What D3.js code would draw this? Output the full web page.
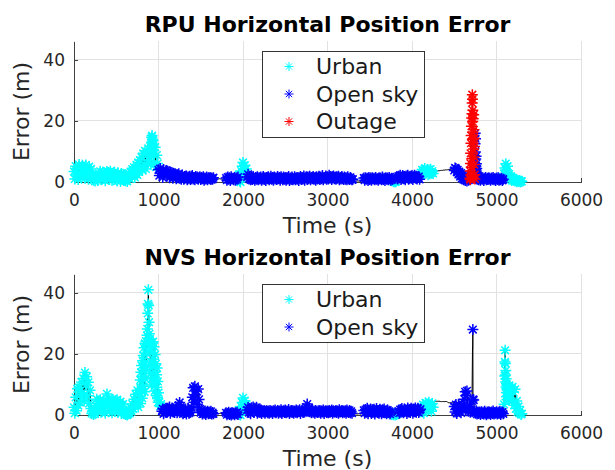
<!DOCTYPE html>
<html>
<head>
<meta charset="utf-8">
<script src="https://cdn.jsdelivr.net/npm/d3@7"></script>
<style>
  body { margin: 0; background: #fff; }
  svg { font-family: "DejaVu Sans", sans-serif; }
</style>
</head>
<body>
<div id="result"></div>
<script>
// main series: one value every STEP seconds, from t = 0 to 5300
const STEP = 10;

const rpuError = [
  3.4,1.0,5.2,2.3,4.6,0.8,5.7,2.9,1.5,4.1,
  5.5,2.6,4.8,1.2,5.6,3.3,4.2,0.9,5.0,2.7,
  4.3,1.8,2.2,0.6,1.9,0.3,2.4,1.1,0.5,2.0,
  1.4,3.5,0.7,2.8,3.3,1.2,3.0,0.4,2.5,3.4,
  1.9,3.1,0.8,3.5,2.2,0.5,2.9,1.7,3.3,1.0,
  2.4,0.3,3.0,1.2,2.0,0.2,2.8,0.9,2.5,0.5,
  1.8,0.4,1.3,0.2,1.6,2.8,1.0,3.4,1.9,4.2,
  2.6,4.8,1.5,3.9,5.6,2.3,6.4,3.4,7.2,4.5,
  8.1,3.8,9.4,5.6,10.2,4.3,8.7,6.4,11.0,7.1,
  9.3,5.8,12.0,13.0,10.5,6.2,11.4,4.9,8.8,6.1,
  4.0,2.1,4.4,2.9,3.6,1.5,4.1,2.4,3.2,3.8,
  1.9,3.5,2.7,1.4,3.3,2.0,3.0,1.2,2.8,2.2,
  2.6,1.1,2.4,1.7,2.7,1.2,2.0,0.9,2.3,1.5,
  0.9,1.8,1.3,2.0,0.7,1.6,1.1,1.9,0.8,1.7,
  2.1,1.0,1.5,0.7,1.8,1.2,1.6,0.9,1.4,1.7,
  0.8,1.5,1.1,1.7,0.6,1.3,1.0,1.6,0.7,1.4,
  1.1,1.5,0.8,1.3,0.9,1.4,1.0,1.1,1.0,1.0,
  1.0,1.0,1.1,1.0,1.0,1.0,0.9,1.0,1.0,1.0,
  1.3,0.6,1.6,0.9,1.4,0.5,1.7,1.0,1.2,0.7,
  1.5,0.6,1.3,0.9,1.6,2.4,0.3,0.0,3.6,5.2,
  6.4,4.1,5.5,2.8,4.3,1.6,2.5,1.0,1.9,0.7,
  1.6,0.8,1.8,1.1,0.6,1.5,0.9,1.7,0.7,1.4,
  1.0,1.6,0.6,1.3,1.8,0.8,1.4,0.5,1.5,1.1,
  1.7,0.7,1.3,1.9,0.9,1.5,0.6,1.6,1.0,1.4,
  0.8,1.8,1.1,1.5,0.6,1.7,1.2,0.7,1.6,0.9,
  1.4,0.6,1.5,1.0,1.8,0.5,1.3,0.8,1.6,0.7,
  1.1,1.7,0.7,1.4,0.9,1.5,0.5,1.3,1.8,0.8,
  1.5,1.0,2.0,0.6,1.4,1.7,0.8,1.6,1.1,1.9,
  0.7,1.5,1.2,1.8,0.9,1.4,0.6,1.7,1.0,1.5,
  1.9,0.8,1.6,1.1,2.1,0.7,1.5,1.2,2.0,0.9,
  1.7,1.0,2.2,1.3,1.8,0.8,1.5,2.0,1.1,1.6,
  0.9,1.7,1.2,1.9,0.7,1.5,1.0,1.8,1.3,0.8,
  1.6,0.9,1.4,0.7,1.7,1.1,0.8,1.5,1.0,0.7,
  0.9,0.4,0.4,0.3,0.3,0.3,0.4,0.3,0.3,0.4,
  0.3,0.4,0.3,1.3,0.6,1.4,0.9,1.2,0.5,1.5,
  0.8,1.3,0.6,1.4,1.0,1.2,0.7,1.5,0.9,1.1,
  0.6,1.4,1.0,1.3,0.7,1.6,0.8,1.2,0.5,1.4,
  0.9,1.3,0.7,1.5,1.0,0.6,1.2,0.8,0.1,0.3,
  0.0,0.2,1.7,1.0,1.9,1.3,2.2,0.8,1.6,2.1,
  1.1,1.8,0.7,2.0,1.4,2.2,0.9,1.6,1.9,1.2,
  2.1,0.8,1.7,2.2,1.3,1.9,1.0,1.5,1.8,0.9,
  2.2,3.1,4.0,2.6,3.8,4.4,2.9,3.5,4.1,2.4,
  3.9,2.7,4.2,3.0,3.6,2.8,3.4,3.5,3.5,3.6,
  3.6,3.7,3.7,3.7,3.8,3.8,3.8,3.9,3.9,3.9,
  4.0,4.0,4.0,4.1,4.1,4.1,4.2,4.2,4.3,4.3,
  3.8,4.6,4.4,3.2,4.0,2.5,3.4,1.8,2.9,1.2,
  2.4,0.8,1.9,0.5,1.4,0.3,1.0,0.6,0.9,0.6,
  0.6,0.6,0.6,0.6,0.6,0.6,0.6,0.6,1.4,0.7,
  1.2,0.6,1.4,0.9,1.3,0.5,1.1,1.5,0.7,1.2,
  0.8,1.4,1.0,0.6,1.3,0.9,1.5,0.7,1.1,0.5,
  1.3,0.8,1.4,0.6,1.0,0.7,1.2,0.5,0.9,2.8,
  4.6,6.0,3.9,5.2,1.8,2.6,0.9,1.9,0.5,1.4,
  0.7,1.0,0.3,0.8,0.1,0.6,0.2,0.5,0.0,0.3,
  0.2
];
// short stretches sampled more finely (they replace the main samples inside them)
const rpuBurstStart = [916, 4686];
const rpuBurstStep = [2, 2];
const rpuBurstValues = [
  [9.6,12.8,14.7,13.1,15.2,11.8,14.0,12.3,10.5,13.6,9.0,11.4],
  [1.2,3.6,0.8,6.1,9.4,2.3,12.7,15.2,4.8,18.3,21.0,7.6,22.4,25.9,28.6,27.1,19.8,23.5,16.4,20.7,
   13.9,10.8,22.0,17.1,8.2,14.3,5.7,11.6,2.4,1.0,
   12.5,16.0,9.8,14.2,7.5,5.2,8.4,3.6,6.0,2.1,4.4,1.5,3.0,0.9,2.2]
];
const rpuZoneStart = [0, 1000, 1660, 1800, 1950, 2050, 3310, 3430, 3780, 3820, 4100, 4260, 4500, 4686, 4746, 5090];
const rpuZoneClass = ['Urban','Open sky','','Open sky','Urban','Open sky','','Open sky','Urban','Open sky','Urban','','Open sky','Outage','Open sky','Urban'];

const nvsError = [
  2.5,0.6,5.8,1.4,8.6,3.1,9.0,4.2,6.6,10.8,
  7.4,12.0,4.6,13.9,9.8,12.5,6.3,10.7,3.8,8.1,
  2.1,0.5,1.2,0.2,0.8,0.4,3.1,5.2,1.8,4.6,
  2.4,5.0,0.9,3.7,1.5,4.8,2.8,0.6,4.2,6.9,
  3.3,5.4,1.2,4.5,2.6,0.7,5.1,3.0,1.8,4.7,
  2.2,5.0,0.8,3.9,1.6,4.4,0.5,2.9,3.6,1.1,
  0.6,0.2,0.4,0.0,0.3,1.2,0.5,2.4,1.1,3.6,
  2.0,5.2,3.1,6.8,4.0,8.1,2.6,7.2,10.5,5.6,
  14.2,19.5,11.8,22.6,16.3,24.1,18.7,20.0,20.0,20.0,
  21.3,13.5,23.8,17.0,11.2,19.6,14.8,8.9,16.4,10.1,
  7.3,4.2,2.8,3.6,1.2,2.0,0.4,1.8,0.9,2.2,
  0.9,2.2,1.4,2.6,0.6,1.8,2.3,1.1,2.0,0.8,
  1.4,2.1,0.7,1.8,3.2,4.1,2.6,1.0,1.9,0.4,
  1.5,0.8,2.0,0.3,1.2,2.2,0.6,1.4,0.9,2.5,
  5.8,8.9,4.2,9.4,6.6,7.9,3.5,8.5,5.1,2.0,
  0.8,1.5,0.3,1.1,0.6,1.3,0.2,0.9,1.2,0.4,
  1.0,0.5,1.2,0.3,0.8,0.4,0.6,0.6,0.5,0.5,
  0.5,0.5,0.5,0.6,0.5,0.5,0.5,0.5,0.6,0.5,
  0.7,0.1,0.5,0.9,0.2,0.6,0.0,0.8,0.3,0.6,
  0.1,0.7,0.4,0.9,0.2,1.6,0.2,0.0,2.8,4.1,
  5.6,3.0,4.7,2.2,3.5,1.6,2.5,0.8,1.9,0.4,
  2.4,1.4,2.6,0.9,2.2,1.8,2.5,0.6,2.0,1.5,
  0.8,1.6,0.5,1.3,1.0,1.5,0.6,1.2,1.4,0.7,
  1.3,0.6,1.5,0.9,1.2,0.5,1.4,1.0,1.6,0.7,
  1.1,1.5,0.6,1.3,0.9,1.7,0.5,1.2,1.4,0.8,
  1.6,0.7,1.3,1.0,1.8,0.5,1.1,1.5,0.8,1.4,
  0.6,1.3,0.9,1.6,0.7,1.4,1.1,1.7,0.5,1.2,
  1.5,0.8,1.3,1.0,1.9,2.6,3.6,1.5,2.3,1.1,
  1.4,0.7,1.6,0.9,1.3,0.6,1.5,1.1,0.8,1.4,
  0.9,1.5,0.6,1.3,1.0,1.6,0.5,1.2,1.4,0.8,
  1.3,0.7,1.5,0.9,1.2,1.6,0.6,1.4,1.0,1.1,
  1.5,0.8,1.3,0.6,1.7,1.0,1.2,1.5,0.7,1.3,
  0.9,1.4,0.6,1.6,1.1,0.8,1.5,0.7,1.2,0.6,
  0.5,0.4,0.4,0.4,0.4,0.3,0.4,0.4,0.4,0.4,
  0.4,0.4,0.4,1.5,0.6,1.8,0.9,2.2,0.4,1.6,
  1.2,2.0,0.5,1.7,0.9,1.9,0.3,1.4,2.1,0.8,
  1.5,0.6,1.9,1.1,0.4,1.7,0.9,2.0,0.7,1.3,
  0.4,1.6,0.8,1.2,0.3,0.9,0.2,0.6,0.1,0.4,
  0.0,0.5,0.2,0.7,1.3,0.6,1.8,0.9,2.1,1.4,
  0.7,2.0,1.2,1.6,0.5,2.3,1.0,1.8,0.8,2.2,
  1.4,0.6,2.0,1.1,2.3,0.9,1.7,2.2,0.8,1.5,
  1.9,2.6,1.0,3.4,0.6,2.9,4.0,1.8,3.6,2.3,
  4.2,2.0,3.3,1.2,3.8,2.5,4.5,4.5,4.5,4.5,
  4.5,4.5,4.5,4.5,4.4,4.4,4.4,4.4,4.4,4.4,
  4.4,4.4,4.3,4.0,4.0,4.0,4.0,4.0,4.0,3.9,
  2.8,1.0,3.4,0.5,2.2,3.5,1.3,2.9,0.7,3.1,
  1.6,3.3,5.2,7.6,6.4,7.9,2.4,1.2,2.8,0.9,
  1.5,4.6,20.0,4.9,1.2,0.6,1.4,0.3,1.0,0.5,
  0.8,0.2,1.1,0.5,0.9,0.3,1.2,0.6,0.1,1.0,
  0.4,1.1,0.7,0.2,1.0,0.5,1.3,0.3,0.8,0.6,
  1.1,0.3,0.9,0.5,1.2,0.2,0.7,1.0,0.4,3.5,
  12.0,12.0,12.0,8.7,5.3,9.6,6.8,8.9,4.5,9.2,
  7.5,3.2,8.4,2.1,4.6,1.0,2.8,0.6,1.5,0.2,
  0.4
];
const nvsBurstStart = [780, 4716, 5098];
const nvsBurstStep = [4, 2, 2];
const nvsBurstValues = [
  [6.2,11.5,3.8,14.0,8.4,16.2,10.1,5.5,17.8,12.6,
   19.5,9.3,22.0,14.7,7.6,23.5,17.1,11.8,24.2,15.0,
   20.3,26.1,28.2,33.3,36.4,41.0,35.9,30.4,26.6,22.8,
   24.9,13.6,21.2,17.4,9.8,23.6,15.9,20.5,12.2,24.0,
   18.3,10.7,22.4,14.1,7.9,19.8,11.5,16.8,6.4,13.2,
   9.1,15.4,5.8,11.0,4.2],
  [21.9,21.7,28.0,5.1],
  [12.8,17.4,21.2,16.9,13.1,10.8,14.6,9.2,11.9,7.4,10.2,6.0,8.5,5.1]
];
const nvsZoneStart = [0, 1040, 1660, 1800, 1950, 2050, 3300, 3430, 3760, 3840, 4110, 4260, 4500, 4716, 4720, 5090];
const nvsZoneClass = ['Urban','Open sky','','Open sky','Urban','Open sky','','Open sky','Urban','Open sky','Urban','','Open sky','','Open sky','Urban'];

const rpuLegend = ['Urban', 'Open sky', 'Outage'];
const nvsLegend = ['Urban', 'Open sky'];
const xTicks = [0, 1000, 2000, 3000, 4000, 5000, 6000];
const yTicks = [0, 20, 40];
const COLORS = { 'Urban': '#00ffff', 'Open sky': '#0000ff', 'Outage': '#ff0000' };

const svg = d3.select("#result").append("svg").attr("width", 615).attr("height", 470);
const x = d3.scaleLinear().domain([0, 6000]).range([74, 581]);

// MATLAB style '*' marker (plus + cross)
function star(r) {
    const d = r * 0.7;
    return `M${-r},0H${r}M0,${-r}V${r}M${-d},${-d}L${d},${d}M${-d},${d}L${d},${-d}`;
}

function buildPoints(main, burstStart, burstStep, burstValues, zoneStart, zoneClass) {
    const windows = burstStart.map((s, k) => [s, s + burstValues[k].length * burstStep[k]]);
    const pts = [];
    main.forEach((e, i) => {
        const t = i * STEP;
        if (windows.some(w => t >= w[0] && t < w[1])) return;
        pts.push({ t: t, e: e });
    });
    burstValues.forEach((vals, k) => {
        vals.forEach((e, j) => pts.push({ t: burstStart[k] + j * burstStep[k], e: e }));
    });
    pts.sort((a, b) => a.t - b.t);
    pts.forEach(p => { p.cls = zoneClass[d3.bisectRight(zoneStart, p.t) - 1]; });
    return pts;
}

function drawPanel(top, title, points, legendNames) {
    const y = d3.scaleLinear().domain([0, 46.2]).range([top + 141, top]);
    const g = svg.append("g");

    // grid
    g.append("g").selectAll("line").data(xTicks).join("line")
        .attr("x1", d => x(d)).attr("x2", d => x(d))
        .attr("y1", y(0)).attr("y2", top)
        .attr("stroke", "#e2e2e2").attr("shape-rendering", "crispEdges");
    g.append("g").selectAll("line").data(yTicks.slice(1)).join("line")
        .attr("x1", x(0)).attr("x2", x(6000))
        .attr("y1", d => y(d)).attr("y2", d => y(d))
        .attr("stroke", "#e2e2e2").attr("shape-rendering", "crispEdges");

    // axes (ticks inside)
    const xa = g.append("g").attr("transform", `translate(0,${y(0)})`)
        .call(d3.axisBottom(x).tickValues(xTicks).tickFormat(d3.format("d"))
            .tickSizeInner(-4).tickSizeOuter(0).tickPadding(12));
    const ya = g.append("g").attr("transform", `translate(${x(0)},0)`)
        .call(d3.axisLeft(y).tickValues(yTicks).tickFormat(d3.format("d"))
            .tickSizeInner(-4).tickSizeOuter(0).tickPadding(9));
    [xa, ya].forEach(a => {
        a.attr("color", "#404040").attr("font-size", 17).attr("font-family", "DejaVu Sans");
        a.selectAll("path,line").attr("shape-rendering", "crispEdges");
        a.selectAll("text").attr("fill", "#262626");
    });

    // black error line
    const line = d3.line().x(d => x(d.t)).y(d => y(d.e));
    g.append("path").datum(points)
        .attr("d", line).attr("fill", "none")
        .attr("stroke", "#000").attr("stroke-width", 1);

    // markers per class
    Object.keys(COLORS).forEach(cls => {
        g.append("g").selectAll("path").data(points.filter(p => p.cls === cls)).join("path")
            .attr("transform", d => `translate(${x(d.t)},${y(d.e)})`)
            .attr("d", star(5.5)).attr("fill", "none")
            .attr("stroke", COLORS[cls]).attr("stroke-width", 1.5);
    });

    // legend
    const lg = g.append("g").attr("transform", `translate(262,${top + 10})`);
    lg.append("rect").attr("x", 0.5).attr("y", 0.5)
        .attr("width", 162).attr("height", 28 * legendNames.length + 2)
        .attr("fill", "#fff").attr("stroke", "#333");
    legendNames.forEach((name, i) => {
        const cy = 15.5 + 27.5 * i;
        lg.append("path").attr("transform", `translate(27,${cy})`)
            .attr("d", star(4.5)).attr("fill", "none")
            .attr("stroke", COLORS[name]).attr("stroke-width", 1);
        lg.append("text").attr("x", 54).attr("y", cy).attr("dy", "0.36em")
            .attr("font-size", 22).attr("fill", "#1a1a1a").text(name);
    });

    // labels
    g.append("text").attr("x", 327.5).attr("y", top - 9)
        .attr("text-anchor", "middle").attr("font-size", 22).attr("font-weight", "bold")
        .attr("fill", "#000").text(title);
    g.append("text").attr("x", 327.5).attr("y", top + 192)
        .attr("text-anchor", "middle").attr("font-size", 22).attr("fill", "#262626")
        .text("Time (s)");
    g.append("text").attr("transform", `translate(29,${top + 70.5}) rotate(-90)`)
        .attr("text-anchor", "middle").attr("font-size", 22).attr("fill", "#262626")
        .text("Error (m)");
}

function main() {
    const rpu = buildPoints(rpuError, rpuBurstStart, rpuBurstStep, rpuBurstValues, rpuZoneStart, rpuZoneClass);
    const nvs = buildPoints(nvsError, nvsBurstStart, nvsBurstStep, nvsBurstValues, nvsZoneStart, nvsZoneClass);
    drawPanel(41, "RPU Horizontal Position Error", rpu, rpuLegend);
    drawPanel(274, "NVS Horizontal Position Error", nvs, nvsLegend);
}

main();
</script>
</body>
</html>
